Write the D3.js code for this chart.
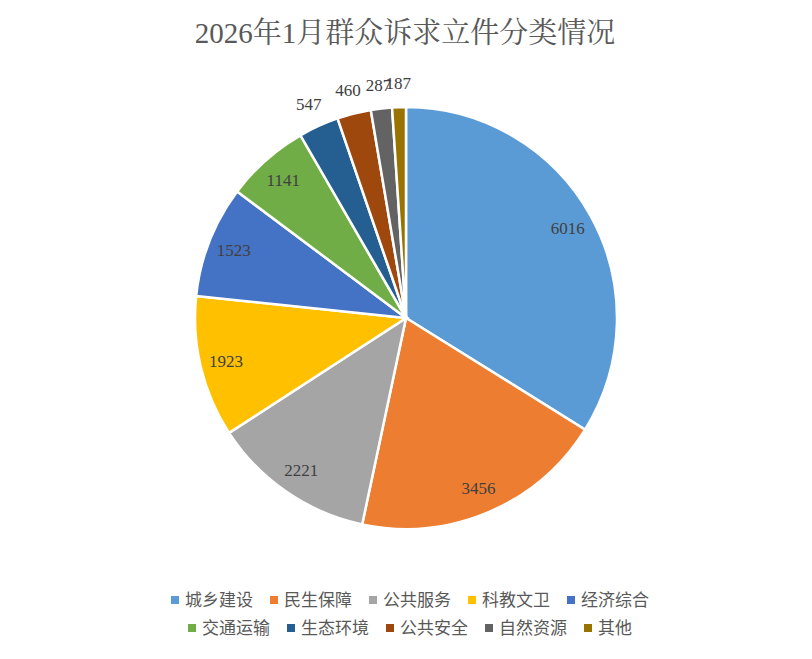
<!DOCTYPE html>
<html><head><meta charset="utf-8">
<script src="https://cdn.jsdelivr.net/npm/d3@7"></script>
<style>body{margin:0;background:#fff}</style></head>
<body><svg id="c" width="812" height="659"></svg>
<script>
const categories=["城乡建设","民生保障","公共服务","科教文卫","经济综合","交通运输","生态环境","公共安全","自然资源","其他"];
const values=[6016,3456,2221,1923,1523,1141,547,460,287,187];
const colors=["#5b9bd5","#ed7d31","#a5a5a5","#ffc000","#4472c4","#70ad47","#255e91","#9e480e","#636363","#997300"];
const legendRows=[[0,1,2,3,4],[5,6,7,8,9]];
const svg=d3.select("#c");
svg.append("text").attr("x",405).attr("y",43).attr("text-anchor","middle")
 .attr("font-family","Liberation Serif, Noto Serif CJK SC, Noto Sans CJK SC").attr("font-size",29).attr("fill","#595959")
 .text("2026年1月群众诉求立件分类情况");
const cx=406,cy=318,R=211;
const pie=d3.pie().sort(null).value(d=>d)(values);
const total=d3.sum(values);
const arc=d3.arc().innerRadius(0).outerRadius(R);
const g=svg.append("g").attr("transform",`translate(${cx},${cy})`);
g.selectAll("path").data(pie).join("path").attr("d",arc)
 .attr("fill",(d,i)=>colors[i]).attr("stroke","#fff").attr("stroke-width",2.5);
g.selectAll("text").data(pie).join("text")
 .attr("transform",d=>{const a=(d.startAngle+d.endAngle)/2;const r=d.value/total>0.05?185:235;
   return `translate(${r*Math.sin(a)},${-r*Math.cos(a)})`;})
 .attr("text-anchor","middle").attr("dy","0.35em")
 .attr("font-family","Liberation Serif").attr("font-size",17).attr("fill","#404040")
 .text(d=>d.value);
const lg=svg.append("g");
legendRows.forEach((row,ri)=>{
  const y=600+ri*28;
  const items=row.map(i=>{const t=lg.append("text").attr("font-family","Noto Sans CJK SC").attr("font-size",17).attr("fill","#595959").text(categories[i]);return {i,t,w:t.node().getComputedTextLength()};});
  const gap=17,sq=8,pad=6;
  const tw=d3.sum(items,d=>sq+pad+d.w)+gap*(items.length-1);
  let x=410-tw/2;
  items.forEach(d=>{
    lg.append("rect").attr("x",x).attr("y",y-sq/2).attr("width",sq).attr("height",sq).attr("fill",colors[d.i]);
    d.t.attr("x",x+sq+pad).attr("y",y).attr("dy","0.35em");
    x+=sq+pad+d.w+gap;
  });
});
</script></body></html>
